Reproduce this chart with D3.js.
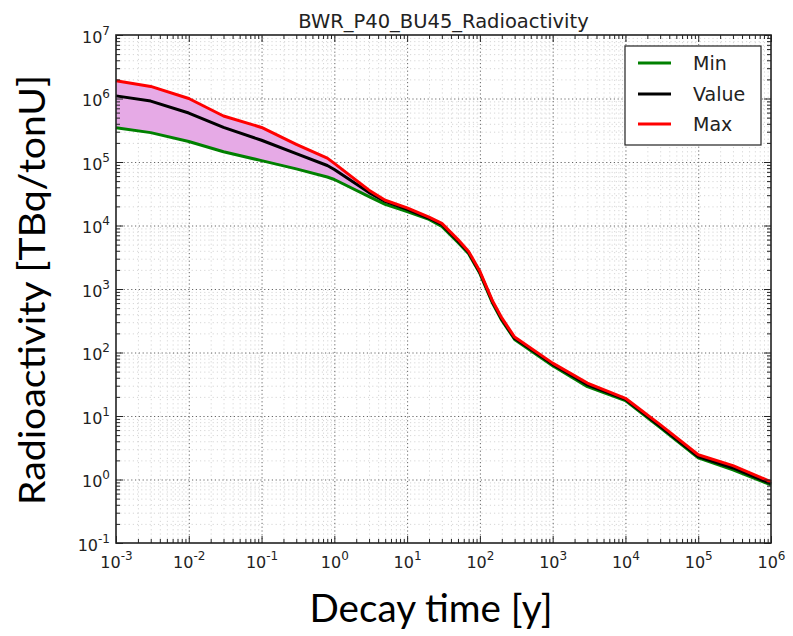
<!DOCTYPE html>
<html><head><meta charset="utf-8">
<script src="https://cdn.jsdelivr.net/npm/d3@7"></script>
<style>
html,body{margin:0;padding:0;background:#fff;}
svg{display:block;}
</style></head>
<body>
<svg id="chart" width="793" height="636"></svg>
<script>
// ---- data ----
const title = "BWR_P40_BU45_Radioactivity";
const xLabel = "Decay time [y]";
const yLabel = "Radioactivity [TBq/tonU]";
const seriesNames = ["Min", "Value", "Max"];
const times  = [0.001,0.003,0.01,0.03,0.1,0.3,0.8,1,3,5,10,20,30,50,70,100,150,200,300,1000,3000,1e4,3e4,1e5,3e5,1e6];
const maxV   = [1.9e6,1.55e6,1.0e6,5.3e5,3.5e5,1.9e5,1.15e5,9.5e4,3.6e4,2.5e4,1.9e4,1.35e4,1.08e4,6.0e3,3.9e3,1.9e3,640,350,175,68,33,19,7.3,2.45,1.65,0.92];
const valueV = [1.1e6,9.1e5,5.9e5,3.5e5,2.2e5,1.35e5,8.8e4,7.6e4,3.3e4,2.4e4,1.8e4,1.3e4,1.03e4,5.7e3,3.75e3,1.82e3,615,335,167,65,31,18.3,6.9,2.3,1.52,0.86];
const minV   = [3.47e5,2.9e5,2.1e5,1.45e5,1.05e5,7.8e4,5.8e4,5.3e4,2.85e4,2.15e4,1.65e4,1.25e4,9.7e3,5.4e3,3.6e3,1.75e3,590,320,160,62,29,17.5,6.6,2.2,1.42,0.82];
const xTickExps = [-3,-2,-1,0,1,2,3,4,5,6];
const yTickExps = [-1,0,1,2,3,4,5,6,7];

// ---- layout ----
const L = 116, R = 771, T = 35, B = 543;
const svg = d3.select("#chart");
const x = d3.scaleLog().domain([1e-3, 1e6]).range([L, R]);
const y = d3.scaleLog().domain([0.1, 1e7]).range([B, T]);

const xMajor = xTickExps.map(e => Math.pow(10, e));
const yMajor = yTickExps.map(e => Math.pow(10, e));
const minorOf = (exps) => {
  const out = [];
  for (let i = 0; i < exps.length - 1; i++)
    for (let k = 2; k <= 9; k++) out.push(k * Math.pow(10, exps[i]));
  return out;
};
const xMinor = minorOf(xTickExps);
const yMinor = minorOf(yTickExps);

// ---- grids ----
function grid(axisGen, transform, color, dash, width) {
  const g = svg.append("g").attr("transform", transform).call(axisGen);
  g.select(".domain").remove();
  g.selectAll("text").remove();
  g.selectAll("line").attr("stroke", color).attr("stroke-dasharray", dash).attr("stroke-width", width);
  return g;
}
grid(d3.axisBottom(x).tickValues(xMinor).tickSize(-(B - T)).tickFormat(""), `translate(0,${B})`, "#d6d6d6", "1.2,3", 1);
grid(d3.axisLeft(y).tickValues(yMinor).tickSize(-(R - L)).tickFormat(""), `translate(${L},0)`, "#d6d6d6", "1.2,3", 1);
grid(d3.axisBottom(x).tickValues(xMajor.slice(1, -1)).tickSize(-(B - T)).tickFormat(""), `translate(0,${B})`, "#666", "1.2,2.6", 1);
grid(d3.axisLeft(y).tickValues(yMajor.slice(1, -1)).tickSize(-(R - L)).tickFormat(""), `translate(${L},0)`, "#666", "1.2,2.6", 1);

// ---- fill ----
const idx = d3.range(times.length);
svg.append("path")
  .attr("d", d3.area().x(i => x(times[i])).y0(i => y(minV[i])).y1(i => y(maxV[i]))(idx))
  .attr("fill", "#e6aae6").attr("stroke", "none");

// ---- lines ----
const colors = ["#008000", "#000000", "#ff0000"];
const seriesVals = [minV, valueV, maxV];
const line = vals => d3.line().x(i => x(times[i])).y(i => y(vals[i]))(idx);
seriesVals.forEach((vals, s) => {
  svg.append("path").attr("d", line(vals)).attr("fill", "none")
    .attr("stroke", colors[s]).attr("stroke-width", 3).attr("stroke-linejoin", "round");
});

// ---- ticks (inward on all sides) ----
function ticks(axisGen, transform) {
  const g = svg.append("g").attr("transform", transform).call(axisGen);
  g.select(".domain").remove();
  g.selectAll("text").remove();
  g.selectAll("line").attr("stroke", "#222").attr("stroke-width", 1);
}
ticks(d3.axisBottom(x).tickValues(xMajor).tickSize(-7), `translate(0,${B})`);
ticks(d3.axisBottom(x).tickValues(xMinor).tickSize(-4), `translate(0,${B})`);
ticks(d3.axisTop(x).tickValues(xMajor).tickSize(-7), `translate(0,${T})`);
ticks(d3.axisTop(x).tickValues(xMinor).tickSize(-4), `translate(0,${T})`);
ticks(d3.axisLeft(y).tickValues(yMajor).tickSize(-7), `translate(${L},0)`);
ticks(d3.axisLeft(y).tickValues(yMinor).tickSize(-4), `translate(${L},0)`);
ticks(d3.axisRight(y).tickValues(yMajor).tickSize(-7), `translate(${R},0)`);
ticks(d3.axisRight(y).tickValues(yMinor).tickSize(-4), `translate(${R},0)`);

// frame
svg.append("rect").attr("x", L).attr("y", T).attr("width", R - L).attr("height", B - T)
  .attr("fill", "none").attr("stroke", "#222").attr("stroke-width", 1.6);

// ---- tick labels with superscripts ----
const tickFont = "DejaVu Sans";
function powLabel(g, exp) {
  g.text(null);
  g.append("tspan").text("10");
  g.append("tspan").attr("font-size", 12).attr("dy", -8).text(exp);
}
const xAx = svg.append("g").attr("transform", `translate(0,${B})`)
  .call(d3.axisBottom(x).tickValues(xMajor).tickSize(0).tickPadding(0).tickFormat(""));
xAx.select(".domain").remove();
xAx.selectAll(".tick").each(function(d, i) {
  const t = d3.select(this).select("text")
    .attr("y", 25).attr("dy", 0).attr("font-family", tickFont).attr("font-size", 16)
    .attr("fill", "#222").attr("text-anchor", "middle");
  powLabel(t, xTickExps[i]);
});
const yAx = svg.append("g").attr("transform", `translate(${L},0)`)
  .call(d3.axisLeft(y).tickValues(yMajor).tickSize(0).tickPadding(0).tickFormat(""));
yAx.select(".domain").remove();
yAx.selectAll(".tick").each(function(d, i) {
  const t = d3.select(this).select("text")
    .attr("x", -6).attr("dy", 0).attr("y", 7).attr("font-family", tickFont).attr("font-size", 16)
    .attr("fill", "#222").attr("text-anchor", "end");
  powLabel(t, yTickExps[i]);
});

// ---- title ----
svg.append("text").attr("x", (L + R) / 2).attr("y", 28).attr("text-anchor", "middle")
  .attr("font-family", tickFont).attr("font-size", 19.5).attr("fill", "#222").text(title);

// ---- axis labels ----
svg.append("text").attr("x", 431).attr("y", 622).attr("text-anchor", "middle")
  .attr("font-family", "Lato").attr("font-size", 39).attr("fill", "#000")
  .attr("textLength", 243).attr("lengthAdjust", "spacingAndGlyphs").text(xLabel);
svg.append("text").attr("transform", "translate(45,290) rotate(-90)").attr("text-anchor", "middle")
  .attr("font-family", "Lato").attr("font-size", 37).attr("fill", "#000")
  .attr("textLength", 430).attr("lengthAdjust", "spacingAndGlyphs").text(yLabel);

// ---- legend ----
const lg = svg.append("g");
lg.append("rect").attr("x", 625).attr("y", 46).attr("width", 136).attr("height", 99)
  .attr("fill", "#fff").attr("stroke", "#222").attr("stroke-width", 1.2);
const rowY = [63, 94, 124];
seriesNames.forEach((n, s) => {
  lg.append("line").attr("x1", 638).attr("x2", 671).attr("y1", rowY[s]).attr("y2", rowY[s])
    .attr("stroke", colors[s]).attr("stroke-width", 3);
  lg.append("text").attr("x", 693).attr("y", rowY[s] + 7).attr("font-family", tickFont)
    .attr("font-size", 19).attr("fill", "#222").text(n);
});
</script>
</body></html>
